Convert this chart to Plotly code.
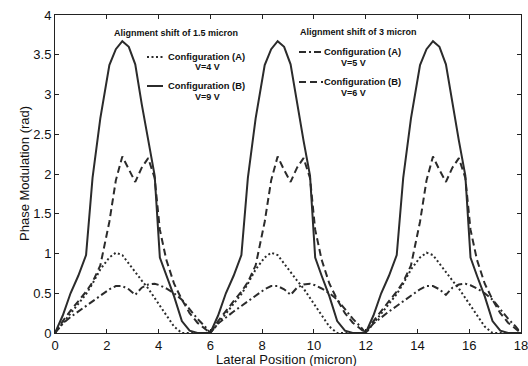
import plotly.graph_objects as go

# Lateral position grid (micron)
x_pos = [0, 0.3, 0.6, 0.9, 1.2, 1.45, 1.75, 2.1, 2.35, 2.6, 2.85, 3.1, 3.35, 3.6, 3.85, 4.05, 4.3, 4.6, 4.9, 5.2, 5.5, 5.8,
         6, 6.3, 6.6, 6.9, 7.2, 7.45, 7.75, 8.1, 8.35, 8.6, 8.85, 9.1, 9.35, 9.6, 9.85, 10.05, 10.3, 10.6, 10.9, 11.2, 11.5, 11.8,
         12, 12.3, 12.6, 12.9, 13.2, 13.45, 13.75, 14.1, 14.35, 14.6, 14.85, 15.1, 15.35, 15.6, 15.85, 16.05, 16.3, 16.6, 16.9, 17.2, 17.5, 17.8,
         18]

# Alignment shift 1.5 micron, Configuration (A), V=4 V (dotted)
shift15_A = [0, 0.12, 0.24, 0.36, 0.49, 0.62, 0.8, 0.95, 1.01, 0.98, 0.87, 0.77, 0.66, 0.56, 0.44, 0.34, 0.22, 0.08, 0.0, 0.0, 0.0, 0.0,
             0, 0.12, 0.24, 0.36, 0.49, 0.62, 0.8, 0.95, 1.01, 0.98, 0.87, 0.77, 0.66, 0.56, 0.44, 0.34, 0.22, 0.08, 0.0, 0.0, 0.0, 0.0,
             0, 0.12, 0.24, 0.36, 0.49, 0.62, 0.8, 0.95, 1.01, 0.98, 0.87, 0.77, 0.66, 0.56, 0.44, 0.34, 0.22, 0.08, 0.0, 0.0, 0.0, 0.0,
             0]

# Alignment shift 1.5 micron, Configuration (B), V=9 V (solid)
shift15_B = [0, 0.22, 0.5, 0.72, 0.98, 1.95, 2.7, 3.37, 3.57, 3.67, 3.6, 3.38, 2.88, 2.42, 1.98, 0.95, 0.72, 0.46, 0.15, 0.03, 0.0, 0.0,
             0, 0.22, 0.5, 0.72, 0.98, 1.95, 2.7, 3.37, 3.57, 3.67, 3.6, 3.38, 2.88, 2.42, 1.98, 0.95, 0.72, 0.46, 0.15, 0.03, 0.0, 0.0,
             0, 0.22, 0.5, 0.72, 0.98, 1.95, 2.7, 3.37, 3.57, 3.67, 3.6, 3.38, 2.88, 2.42, 1.98, 0.95, 0.72, 0.46, 0.15, 0.03, 0.0, 0.0,
             0]

# Alignment shift 3 micron, Configuration (A), V=5 V (dash-dot)
shift3_A = [0, 0.12, 0.2, 0.27, 0.34, 0.4, 0.47, 0.55, 0.59, 0.59, 0.55, 0.48, 0.57, 0.61, 0.62, 0.6, 0.56, 0.5, 0.42, 0.3, 0.18, 0.08,
            0, 0.12, 0.2, 0.27, 0.34, 0.4, 0.47, 0.55, 0.59, 0.59, 0.55, 0.48, 0.57, 0.61, 0.62, 0.6, 0.56, 0.5, 0.42, 0.3, 0.18, 0.08,
            0, 0.12, 0.2, 0.27, 0.34, 0.4, 0.47, 0.55, 0.59, 0.59, 0.55, 0.48, 0.57, 0.61, 0.62, 0.6, 0.56, 0.5, 0.42, 0.3, 0.18, 0.08,
            0]

# Alignment shift 3 micron, Configuration (B), V=6 V (dashed)
shift3_B = [0, 0.15, 0.28, 0.4, 0.52, 0.64, 0.85, 1.4, 1.92, 2.22, 2.05, 1.9, 2.08, 2.2, 1.95, 1.3, 0.92, 0.62, 0.42, 0.25, 0.13, 0.05,
            0, 0.15, 0.28, 0.4, 0.52, 0.64, 0.85, 1.4, 1.92, 2.22, 2.05, 1.9, 2.08, 2.2, 1.95, 1.3, 0.92, 0.62, 0.42, 0.25, 0.13, 0.05,
            0, 0.15, 0.28, 0.4, 0.52, 0.64, 0.85, 1.4, 1.92, 2.22, 2.05, 1.9, 2.08, 2.2, 1.95, 1.3, 0.92, 0.62, 0.42, 0.25, 0.13, 0.05,
            0]

x_ticks = [0, 2, 4, 6, 8, 10, 12, 14, 16, 18]
y_ticks = [0, 0.5, 1, 1.5, 2, 2.5, 3, 3.5, 4]
y_tick_text = ["0", "0.5", "1", "1.5", "2", "2.5", "3", "3.5", "4"]

LINE = "#2b2b2b"
DOT = "2px,2.5px"
DASH = "7px,4px"
DASHDOT = "7px,3px,2px,3px"
FONT = "Liberation Sans, Arial"

fig = go.Figure()
fig.add_trace(go.Scatter(x=x_pos, y=shift15_A, mode="lines", line=dict(color=LINE, width=2, dash=DOT)))
fig.add_trace(go.Scatter(x=x_pos, y=shift3_A, mode="lines", line=dict(color=LINE, width=2, dash=DASHDOT)))
fig.add_trace(go.Scatter(x=x_pos, y=shift3_B, mode="lines", line=dict(color=LINE, width=2, dash=DASH)))
fig.add_trace(go.Scatter(x=x_pos, y=shift15_B, mode="lines", line=dict(color=LINE, width=2)))

W, H = 528, 366
L, R, T, B = 55, 7, 15, 33
pw, ph = W - L - R, H - T - B

def px(xp):
    return (xp - L) / pw

def py(yp):
    return (H - B - yp) / ph

font_b = dict(family=FONT, size=9, color="#111")
annots = []
shapes = []

def text(xp, yp, s, anchor="center", font=font_b, angle=0):
    annots.append(dict(xref="paper", yref="paper", x=px(xp), y=py(yp), text=s, showarrow=False,
                       xanchor=anchor, yanchor="middle", font=font, textangle=angle, borderpad=0))

def sample(x0, x1, yp, dash):
    shapes.append(dict(type="line", xref="paper", yref="paper", x0=px(x0), x1=px(x1), y0=py(yp), y1=py(yp),
                       line=dict(color=LINE, width=2, dash=dash)))

# left legend group
text(176, 33, "<b>Alignment shift of 1.5 micron</b>")
sample(147, 163, 57, DOT)
text(167, 57, "<b>Configuration (A)</b>", "left", dict(family=FONT, size=9.4, color="#111"))
text(207, 67, "<b>V=4 V</b>")
sample(147, 163, 86, "solid")
text(167, 86, "<b>Configuration (B)</b>", "left", dict(family=FONT, size=9.4, color="#111"))
text(207, 97, "<b>V=9 V</b>")

# right group
text(358, 32, "<b>Alignment shift of 3 micron</b>")
sample(299, 323, 52, DASHDOT)
text(323, 52, "<b>Configuration (A)</b>", "left", dict(family=FONT, size=9.4, color="#111"))
text(353, 63, "<b>V=5 V</b>")
sample(299, 323, 82, DASH)
text(323, 82, "<b>Configuration (B)</b>", "left", dict(family=FONT, size=9.4, color="#111"))
text(353, 93, "<b>V=6 V</b>")

# axis titles
title_font = dict(family=FONT, size=13, color="#111")
text(286, 359, "Lateral Position (micron)", font=title_font)
text(24, 174, "Phase Modulation (rad)", font=title_font, angle=-90)

axis_common = dict(showgrid=False, zeroline=False, showline=True, linecolor="#222", linewidth=1,
                   mirror="ticks", ticks="inside", ticklen=4, tickcolor="#222", automargin=False,
                   ticklabeloverflow="allow",
                   tickfont=dict(family=FONT, size=13, color="#111"))

fig.update_layout(
    width=W, height=H,
    margin=dict(l=L, r=R, t=T, b=B),
    paper_bgcolor="white", plot_bgcolor="white",
    showlegend=False,
    annotations=annots, shapes=shapes,
    xaxis=dict(range=[0, 18], tickvals=x_ticks, ticktext=[str(v) for v in x_ticks], **axis_common),
    yaxis=dict(range=[0, 4], tickvals=y_ticks, ticktext=y_tick_text, **axis_common),
)

fig.write_html("out.html", config={"displayModeBar": False},
               post_script="document.body.style.margin='0';document.body.style.overflow='hidden';")
